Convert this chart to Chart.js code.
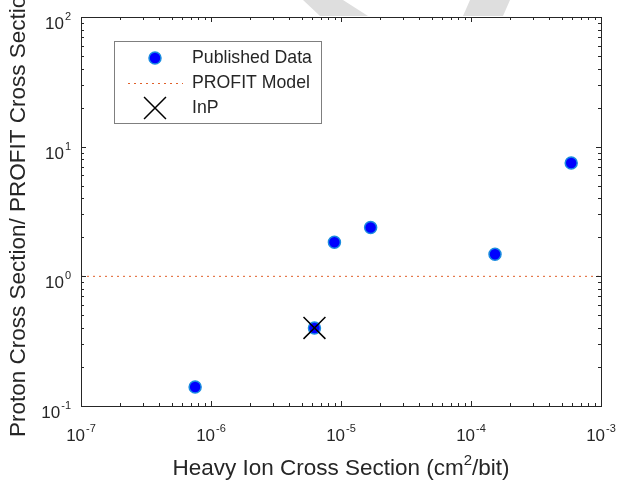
<!DOCTYPE html>
<html lang="en">
<head>
  <meta charset="UTF-8">
  <title>Proton vs Heavy Ion Cross Section</title>
  <script src="https://cdn.jsdelivr.net/npm/chart.js"></script>
  <style>
    body {
      margin: 0;
      padding: 0;
      background: #ffffff;
    }
    #chart {
      display: block;
    }
  </style>
</head>
<body>

  <canvas id="chart" width="620" height="483"></canvas>

  <script>
    // Data
    const heavyIonXS = [7.55e-7, 6.25e-6, 8.9e-6, 1.69e-5, 1.53e-4, 5.9e-4];
    const protonRatio = [0.14, 0.40, 1.83, 2.38, 1.48, 7.48];

    const inpX = [6.25e-6];
    const inpY = [0.40];

    const profitX = [1e-7, 1e-3];
    const profitY = [1, 1];

    const xTickExps = [-7, -6, -5, -4, -3];
    const yTickExps = [-1, 0, 1, 2];

    const labelColor = '#262626';
    const fontFamily = "'Liberation Sans', Arial, sans-serif";

    const toPoints = (xs, ys) => xs.map((x, i) => ({ x: x, y: ys[i] }));

    // faint grey watermark strokes peeking above the axes in the original
    const watermarkPlugin = {
      id: 'watermark',
      beforeDraw(chart) {
        const ctx = chart.ctx;
        ctx.save();
        ctx.fillStyle = '#dedede';
        ctx.beginPath();
        ctx.moveTo(303, 0); ctx.lineTo(343, 0); ctx.lineTo(368, 16); ctx.lineTo(320, 16);
        ctx.closePath();
        ctx.moveTo(470, 0); ctx.lineTo(510, 0); ctx.lineTo(503, 16); ctx.lineTo(463, 16);
        ctx.closePath();
        ctx.fill();
        ctx.restore();
      }
    };

    // Axes box, inward ticks, tick labels and axis titles
    const axesPlugin = {
      id: 'matlabAxes',
      afterDatasetsDraw(chart) {
        const ctx = chart.ctx;
        const area = chart.chartArea;
        const xs = chart.scales.x;
        const ys = chart.scales.y;

        ctx.save();
        ctx.strokeStyle = labelColor;
        ctx.lineWidth = 1;

        // box
        ctx.strokeRect(Math.round(area.left) + 0.5, Math.round(area.top) + 0.5,
          Math.round(area.right - area.left), Math.round(area.bottom - area.top));

        ctx.beginPath();
        // x ticks (bottom and top)
        for (let e = xTickExps[0]; e < xTickExps[xTickExps.length - 1] + 1; e++) {
          for (let m = 1; m <= 9; m++) {
            const v = m * Math.pow(10, e);
            if (v > xs.max * 1.0001) break;
            const px = Math.round(xs.getPixelForValue(v)) + 0.5;
            const len = m === 1 ? 5 : 3;
            ctx.moveTo(px, area.bottom);
            ctx.lineTo(px, area.bottom - len);
            ctx.moveTo(px, area.top);
            ctx.lineTo(px, area.top + len);
          }
        }
        // y ticks (left and right)
        for (let e = yTickExps[0]; e < yTickExps[yTickExps.length - 1] + 1; e++) {
          for (let m = 1; m <= 9; m++) {
            const v = m * Math.pow(10, e);
            if (v > ys.max * 1.0001) break;
            const py = Math.round(ys.getPixelForValue(v)) + 0.5;
            const len = m === 1 ? 5 : 3;
            ctx.moveTo(area.left, py);
            ctx.lineTo(area.left + len, py);
            ctx.moveTo(area.right, py);
            ctx.lineTo(area.right - len, py);
          }
        }
        ctx.stroke();

        // tick labels like 10^-5
        ctx.fillStyle = labelColor;
        ctx.textBaseline = 'alphabetic';
        ctx.textAlign = 'left';
        const baseFont = '17px ' + fontFamily;
        const expFont = '11px ' + fontFamily;

        const measure = (exp) => {
          ctx.font = baseFont;
          const w1 = ctx.measureText('10').width;
          ctx.font = expFont;
          const w2 = ctx.measureText(String(exp)).width;
          return { w1, w2, total: w1 + 1 + w2 };
        };
        const drawPow = (x, yBase, exp) => {
          const m = measure(exp);
          ctx.font = baseFont;
          ctx.fillText('10', x, yBase);
          ctx.font = expFont;
          ctx.fillText(String(exp), x + m.w1 + 1, yBase - 9);
          return m;
        };

        xTickExps.forEach((e) => {
          const px = xs.getPixelForValue(Math.pow(10, e));
          const m = measure(e);
          drawPow(px - m.total / 2, area.bottom + 35, e);
        });
        yTickExps.forEach((e) => {
          const py = ys.getPixelForValue(Math.pow(10, e));
          const m = measure(e);
          drawPow(area.left - 10 - m.total, py + 12, e);
        });

        // x axis title with superscript
        const titleFont = '22.5px ' + fontFamily;
        const supFont = '15px ' + fontFamily;
        const partA = 'Heavy Ion Cross Section (cm';
        const partB = '2';
        const partC = '/bit)';
        ctx.font = titleFont;
        const wa = ctx.measureText(partA).width;
        const wc = ctx.measureText(partC).width;
        ctx.font = supFont;
        const wb = ctx.measureText(partB).width;
        const cx = (area.left + area.right) / 2;
        let tx = cx - (wa + wb + wc) / 2;
        const ty = area.bottom + 69;
        ctx.font = titleFont;
        ctx.fillText(partA, tx, ty);
        ctx.font = supFont;
        ctx.fillText(partB, tx + wa, ty - 10);
        ctx.font = titleFont;
        ctx.fillText(partC, tx + wa + wb, ty);

        // y axis title (runs off the top like the original)
        ctx.save();
        ctx.translate(25, 437);
        ctx.rotate(-Math.PI / 2);
        ctx.font = titleFont;
        ctx.fillText('Proton Cross Section/ PROFIT Cross Section', 0, 0);
        ctx.restore();

        ctx.restore();
      }
    };

    // Legend box drawn inside the axes
    const legendPlugin = {
      id: 'insideLegend',
      afterDraw(chart) {
        const ctx = chart.ctx;
        const sets = chart.data.datasets;
        const box = { x: 114.5, y: 41.5, w: 207, h: 82 };
        const rowY = [58, 83, 108];
        const symX = 155;
        const textX = 192;

        ctx.save();
        ctx.fillStyle = '#ffffff';
        ctx.fillRect(box.x, box.y, box.w, box.h);
        ctx.strokeStyle = '#7f7f7f';
        ctx.lineWidth = 1;
        ctx.strokeRect(box.x, box.y, box.w, box.h);

        const order = ['Published Data', 'PROFIT Model', 'InP'];
        order.forEach((name, i) => {
          const ds = sets.find(d => d.label === name);
          const y = rowY[i];
          if (name === 'Published Data') {
            ctx.beginPath();
            ctx.arc(symX, y, ds.pointRadius, 0, Math.PI * 2);
            ctx.fillStyle = ds.pointBackgroundColor;
            ctx.fill();
            ctx.lineWidth = ds.pointBorderWidth;
            ctx.strokeStyle = ds.pointBorderColor;
            ctx.stroke();
          } else if (name === 'PROFIT Model') {
            ctx.beginPath();
            ctx.setLineDash(ds.borderDash);
            ctx.lineWidth = ds.borderWidth;
            ctx.strokeStyle = ds.borderColor;
            ctx.moveTo(128, y + 0.5);
            ctx.lineTo(183, y + 0.5);
            ctx.stroke();
            ctx.setLineDash([]);
          } else {
            const h = ds.pointRadius * Math.SQRT1_2;
            ctx.beginPath();
            ctx.lineWidth = ds.pointBorderWidth;
            ctx.strokeStyle = ds.pointBorderColor;
            ctx.moveTo(symX - h, y - h);
            ctx.lineTo(symX + h, y + h);
            ctx.moveTo(symX - h, y + h);
            ctx.lineTo(symX + h, y - h);
            ctx.stroke();
          }
          ctx.fillStyle = labelColor;
          ctx.font = '17.7px ' + fontFamily;
          ctx.textBaseline = 'middle';
          ctx.textAlign = 'left';
          ctx.fillText(name, textX, y);
        });
        ctx.restore();
      }
    };

    const ctx = document.getElementById('chart').getContext('2d');
    const chart = new Chart(ctx, {
      type: 'scatter',
      data: {
        datasets: [
          {
            label: 'InP',
            data: toPoints(inpX, inpY),
            pointStyle: 'crossRot',
            pointRadius: 15.5,
            pointBorderWidth: 1.5,
            pointBorderColor: '#000000',
            pointBackgroundColor: '#000000',
            order: 0
          },
          {
            label: 'Published Data',
            data: toPoints(heavyIonXS, protonRatio),
            pointStyle: 'circle',
            pointRadius: 6,
            pointBorderWidth: 1.5,
            pointBackgroundColor: '#0000ff',
            pointBorderColor: '#1a8ce0',
            order: 1
          },
          {
            label: 'PROFIT Model',
            data: toPoints(profitX, profitY),
            showLine: true,
            pointRadius: 0,
            borderColor: '#e0602a',
            borderWidth: 1,
            borderDash: [2, 4],
            order: 2
          }
        ]
      },
      options: {
        responsive: false,
        animation: false,
        layout: {
          padding: { left: 81, right: 19, top: 16, bottom: 77 }
        },
        plugins: {
          legend: { display: false },
          tooltip: { enabled: false }
        },
        scales: {
          x: { type: 'logarithmic', min: 1e-7, max: 1e-3, display: false },
          y: { type: 'logarithmic', min: 0.1, max: 100, display: false }
        }
      },
      plugins: [watermarkPlugin, axesPlugin, legendPlugin]
    });
  </script>

</body>
</html>
